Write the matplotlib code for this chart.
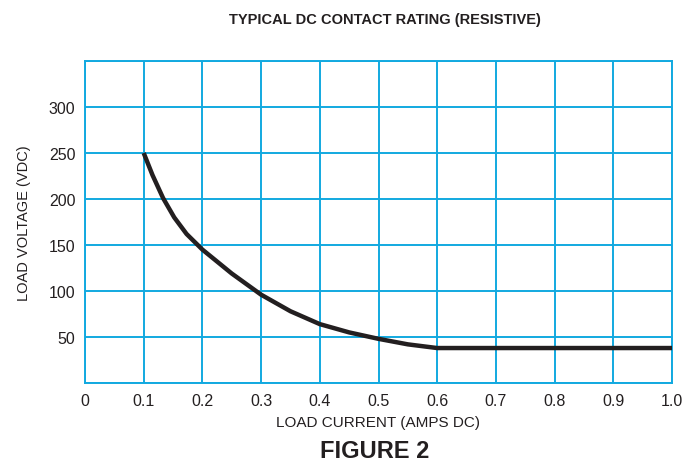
import numpy as np
import matplotlib
matplotlib.use('Agg')
import matplotlib.pyplot as plt

plt.rcParams['font.family'] = ['Liberation Sans', 'DejaVu Sans']

# curve
current = [0.1, 0.115, 0.133, 0.152, 0.173, 0.2, 0.25, 0.3, 0.35, 0.4, 0.45, 0.5, 0.55, 0.6, 1.0]
voltage = [250, 226, 201, 180, 162, 145, 119, 96, 78, 64, 55, 48, 42, 38, 38]

x_ticks = [0, 0.1, 0.2, 0.3, 0.4, 0.5, 0.6, 0.7, 0.8, 0.9, 1.0]
x_labels = ['0', '0.1', '0.2', '0.3', '0.4', '0.5', '0.6', '0.7', '0.8', '0.9', '1.0']
y_ticks = [50, 100, 150, 200, 250, 300]

grid_color = '#12a9e0'
text_color = '#231f20'

fig = plt.figure(figsize=(6.84, 4.64), dpi=100)
ax = fig.add_axes([85 / 684, 1 - 384 / 464, (672 - 85) / 684, (384 - 62) / 464])

ax.plot(current, voltage, color='#231f20', linewidth=3.2, solid_capstyle='butt',
        solid_joinstyle='round', zorder=3)

ax.set_xlim(0, 1.0)
ax.set_ylim(0, 350)
ax.set_xticks(x_ticks)
ax.set_xticklabels(x_labels)
ax.set_yticks(y_ticks)
ax.set_yticks(np.arange(0, 351, 50), minor=True)
ax.grid(True, which='both', color=grid_color, linewidth=1.4)
ax.tick_params(which='both', length=0, labelsize=11.5, colors=text_color, pad=7)
for s in ax.spines.values():
    s.set_color(grid_color)
    s.set_linewidth(1.4)

ax.set_xlabel('LOAD CURRENT (AMPS DC)', fontsize=11, color=text_color, labelpad=5)
ax.set_ylabel('LOAD VOLTAGE (VDC)', fontsize=10.5, color=text_color, labelpad=13)

fig.text(0.5625, 1 - 20 / 464, 'TYPICAL DC CONTACT RATING (RESISTIVE)', ha='center', va='center',
         fontsize=10.5, fontweight='bold', color=text_color)
fig.text(0.548, 1 - 452 / 464, 'FIGURE 2', ha='center', va='center',
         fontsize=17, fontweight='bold', color=text_color)

fig.savefig('out.png', dpi=100)
